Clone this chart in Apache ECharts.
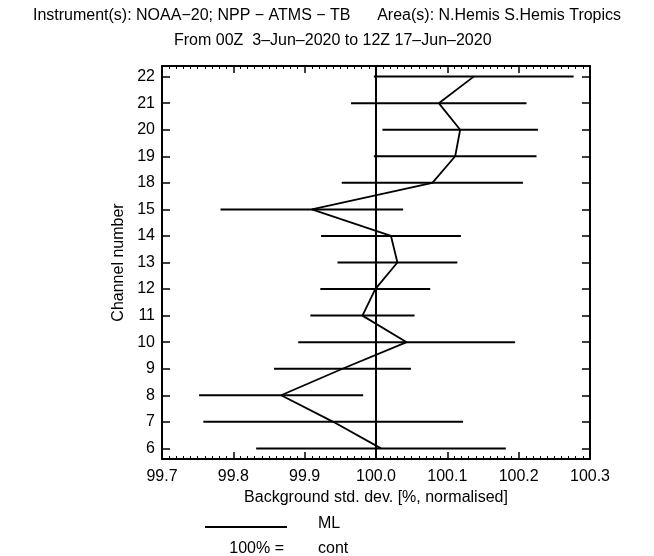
<!DOCTYPE html>
<html lang="en">
<head>
    <meta charset="UTF-8">
    <title>ATMS background std. dev.</title>
    <script src="https://cdn.jsdelivr.net/npm/echarts@6/dist/echarts.min.js"></script>
</head>
<body style="margin: 0; background: #fff;">
<div id="container" style="width: 654px; height: 556px;"></div>
<script type="text/javascript">
    // channel numbers, bottom to top
    const channels = [6, 7, 8, 9, 10, 11, 12, 13, 14, 15, 18, 19, 20, 21, 22];
    // normalised background std. dev. (%) per channel
    const ratio = [100.007, 99.940, 99.867, 99.953, 100.043, 99.981, 99.999, 100.030,
        100.021, 99.910, 100.079, 100.111, 100.118, 100.088, 100.137];
    // half-width of the error bar
    const spread = [0.175, 0.182, 0.115, 0.096, 0.152, 0.073, 0.077, 0.084,
        0.098, 0.128, 0.127, 0.114, 0.109, 0.123, 0.140];
    const xTicks = [99.7, 99.8, 99.9, 100.0, 100.1, 100.2, 100.3];

    const idx = channels.map((c, i) => i);
    const font = 'Liberation Sans, Arial, sans-serif';

    let dom = document.getElementById("container");
    let myChart = echarts.init(dom);

    let xCommon = {
        type: 'value',
        min: xTicks[0],
        max: xTicks[xTicks.length - 1],
        interval: 0.1,
        axisLine: {show: true, onZero: false, lineStyle: {color: '#000', width: 2}},
        axisTick: {show: true, inside: true, length: 7, lineStyle: {color: '#000', width: 1.5}},
        minorTick: {show: true, splitNumber: 10, length: 3, lineStyle: {color: '#000', width: 1}},
        splitLine: {show: false}
    };
    let yCommon = {
        type: 'value',
        min: -0.4,
        max: idx.length - 1 + 0.4,
        axisLine: {show: true, onZero: false, lineStyle: {color: '#000', width: 2}},
        axisTick: {show: true, inside: true, length: 8, customValues: idx, lineStyle: {color: '#000', width: 1.5}},
        splitLine: {show: false}
    };

    let option = {
        backgroundColor: '#fff',
        animation: false,
        textStyle: {fontFamily: font},
        title: [{
            text: 'Instrument(s): NOAA\u221220; NPP \u2212 ATMS \u2212 TB      Area(s): N.Hemis S.Hemis Tropics',
            left: 'center',
            top: 3,
            textStyle: {fontSize: 16, fontWeight: 'normal', color: '#000', fontFamily: font}
        }, {
            text: 'From 00Z  3\u2013Jun\u20132020 to 12Z 17\u2013Jun\u20132020',
            left: 169,
            top: 28,
            textStyle: {fontSize: 16, fontWeight: 'normal', color: '#000', fontFamily: font}
        }],
        grid: {left: 162, right: 64, top: 66, bottom: 97},
        xAxis: [Object.assign({}, xCommon, {
            position: 'bottom',
            axisLabel: {
                color: '#000', fontSize: 16, margin: 10, fontFamily: font,
                formatter: v => v.toFixed(1)
            },
            name: 'Background std. dev. [%, normalised]',
            nameLocation: 'middle',
            nameGap: 27,
            nameTextStyle: {color: '#000', fontSize: 16, fontFamily: font}
        }), Object.assign({}, xCommon, {
            position: 'top',
            axisLabel: {show: false}
        })],
        yAxis: [Object.assign({}, yCommon, {
            position: 'left',
            axisLabel: {
                color: '#000', fontSize: 16, margin: 7, fontFamily: font,
                customValues: idx,
                formatter: v => String(channels[Math.round(v)])
            },
            name: 'Channel number',
            nameLocation: 'middle',
            nameGap: 34,
            nameRotate: 90,
            nameTextStyle: {color: '#000', fontSize: 16, fontFamily: font}
        }), Object.assign({}, yCommon, {
            position: 'right',
            axisLabel: {show: false}
        })],
        series: [{
            type: 'custom',
            name: 'spread',
            xAxisIndex: 0,
            yAxisIndex: 0,
            data: ratio.map((r, i) => [r - spread[i], r + spread[i], i]),
            encode: {x: [0, 1], y: 2},
            renderItem: function (params, api) {
                let lo = api.coord([api.value(0), api.value(2)]);
                let hi = api.coord([api.value(1), api.value(2)]);
                return {
                    type: 'line',
                    shape: {x1: lo[0], y1: lo[1], x2: hi[0], y2: hi[1]},
                    style: {stroke: '#000', lineWidth: 2}
                };
            },
            silent: true
        }, {
            type: 'line',
            name: 'ML',
            xAxisIndex: 0,
            yAxisIndex: 0,
            data: ratio.map((r, i) => [r, i]),
            showSymbol: false,
            lineStyle: {color: '#000', width: 1.8},
            silent: true,
            markLine: {
                silent: true,
                symbol: 'none',
                label: {show: false},
                lineStyle: {color: '#000', width: 2, type: 'solid'},
                data: [{xAxis: 100}]
            }
        }],
        graphic: [{
            type: 'line',
            shape: {x1: 205, y1: 527, x2: 287, y2: 527},
            style: {stroke: '#000', lineWidth: 2}
        }, {
            type: 'text',
            left: 318, top: 516,
            style: {text: 'ML', fontSize: 16, fill: '#000', fontFamily: font}
        }, {
            type: 'text',
            right: 654 - 284, top: 541,
            style: {text: '100% =', fontSize: 16, fill: '#000', fontFamily: font, align: 'right'}
        }, {
            type: 'text',
            left: 318, top: 541,
            style: {text: 'cont', fontSize: 16, fill: '#000', fontFamily: font}
        }]
    };
    myChart.setOption(option, true);
</script>
</body>
</html>
